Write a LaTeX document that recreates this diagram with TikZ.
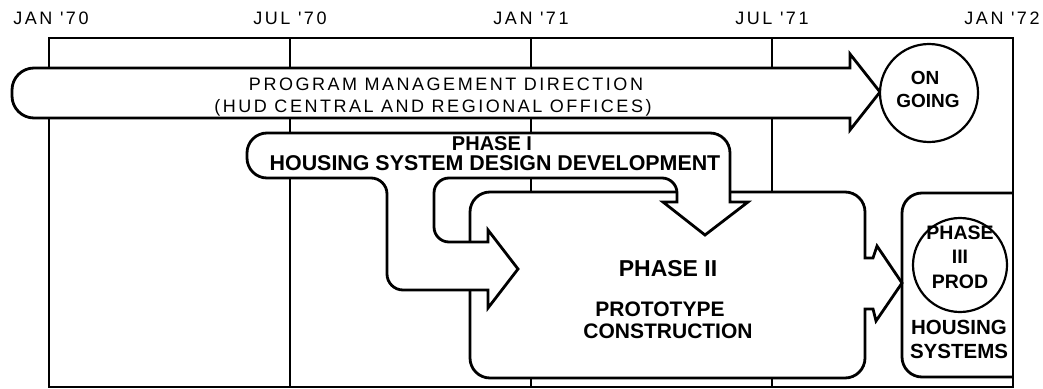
\documentclass[tikz,border=0pt]{standalone}
\usepackage{fontspec}
\setmainfont{Liberation Sans}
\newfontfamily\widefont[LetterSpace=14]{Liberation Sans}
\usetikzlibrary{positioning}

\tikzset{
  month/.style={font=\widefont\fontsize{18}{20}\selectfont, inner sep=0pt},
  heavy/.style={font=\bfseries\fontsize{#1}{#1}\selectfont, inner sep=0pt},
  gridline/.style={line width=1.4pt},
  band/.style={draw, fill=white, line width=2.8pt},
  ring/.style={circle, draw, fill=white, line width=2.2pt, inner sep=0pt, minimum size=#1}
}

\begin{document}
\begin{tikzpicture}[x=1pt, y=-1pt, on grid]
   \useasboundingbox (0,0) rectangle (1043,388);

   \filldraw[band] (1013,193) [rounded corners=20] -- (902,193) -- (902,377) -- (1013,377);

   \draw[gridline] (49,38) rectangle (1013,387);
   \draw[gridline] (290,38) -- (290,387);
   \draw[gridline] (531,38) -- (531,387);
   \draw[gridline] (772,38) -- (772,387);

   \node[month] (jan70) at (51,18) {JAN '70};
   \node[month, right=239pt of jan70] (jul70) {JUL '70};
   \node[month, right=241pt of jul70] (jan71) {JAN '71};
   \node[month, right=241pt of jan71] (jul71) {JUL '71};
   \node[month, right=230pt of jul71] (jan72) {JAN '72};

   \filldraw[band] (850,68) [rounded corners=22] -- (12,68) -- (12,118)
      [sharp corners] -- (850,118) -- (850,130) -- (880,92) -- (850,54) -- cycle;
   \node[ring=98pt] (ongoing) at (929,93) {};
   \node[heavy=19] (on) at (925,77.5) {ON};
   \node[heavy=19, below=23pt of on, xshift=3pt] (going) {GOING};

   \node[month] (pm1) at (446,84.5) {PROGRAM MANAGEMENT DIRECTION};
   \node[month] (pm2) at (433,108) {(HUD CENTRAL AND REGIONAL OFFICES)};

   \filldraw[band] (470,285) [rounded corners=20] -- (470,192) -- (865,192)
      [sharp corners] -- (865,258) -- (873,258) -- (877,246) -- (902,283) -- (876,321)
      -- (873,309) -- (865,309) [rounded corners=20] -- (865,378) -- (470,378)
      [sharp corners] -- cycle;

   \filldraw[band] (490,133) [rounded corners=20] -- (730,133)
      [sharp corners] -- (730,202) -- (748,202) -- (705,235) -- (663,202) -- (677,202)
      [rounded corners=15] -- (677,178) -- (434,178) -- (434,242)
      [sharp corners] -- (488,242) -- (488,230) -- (518,269) -- (488,308) -- (488,290)
      [rounded corners=16] -- (387,290) -- (387,178)
      [rounded corners=20] -- (247,178) -- (247,133) -- cycle;

   \node[heavy=20] (ph1) at (492,143.5) {PHASE I};
   \node[heavy=21.4] (ph1txt) at (495,163) {HOUSING SYSTEM DESIGN DEVELOPMENT};

   \node[heavy=23] (ph2) at (668,268.5) {PHASE II};
   \node[heavy=21] (proto) at (660,309) {PROTOTYPE};
   \node[heavy=21] (constr) at (668,331) {CONSTRUCTION};

   \node[ring=94pt] (prod) at (960,265) {};
   \node[heavy=19.5] (ph3) at (960,232.5) {PHASE};
   \node[heavy=19.5, below=24.5pt of ph3] (ph3num) {III};
   \node[heavy=19.5, below=24.5pt of ph3num] (ph3prod) {PROD};
   \node[heavy=20.5] (housing) at (959,327.5) {HOUSING};
   \node[heavy=20.5, below=24pt of housing] (systems) {SYSTEMS};
\end{tikzpicture}
\end{document}
